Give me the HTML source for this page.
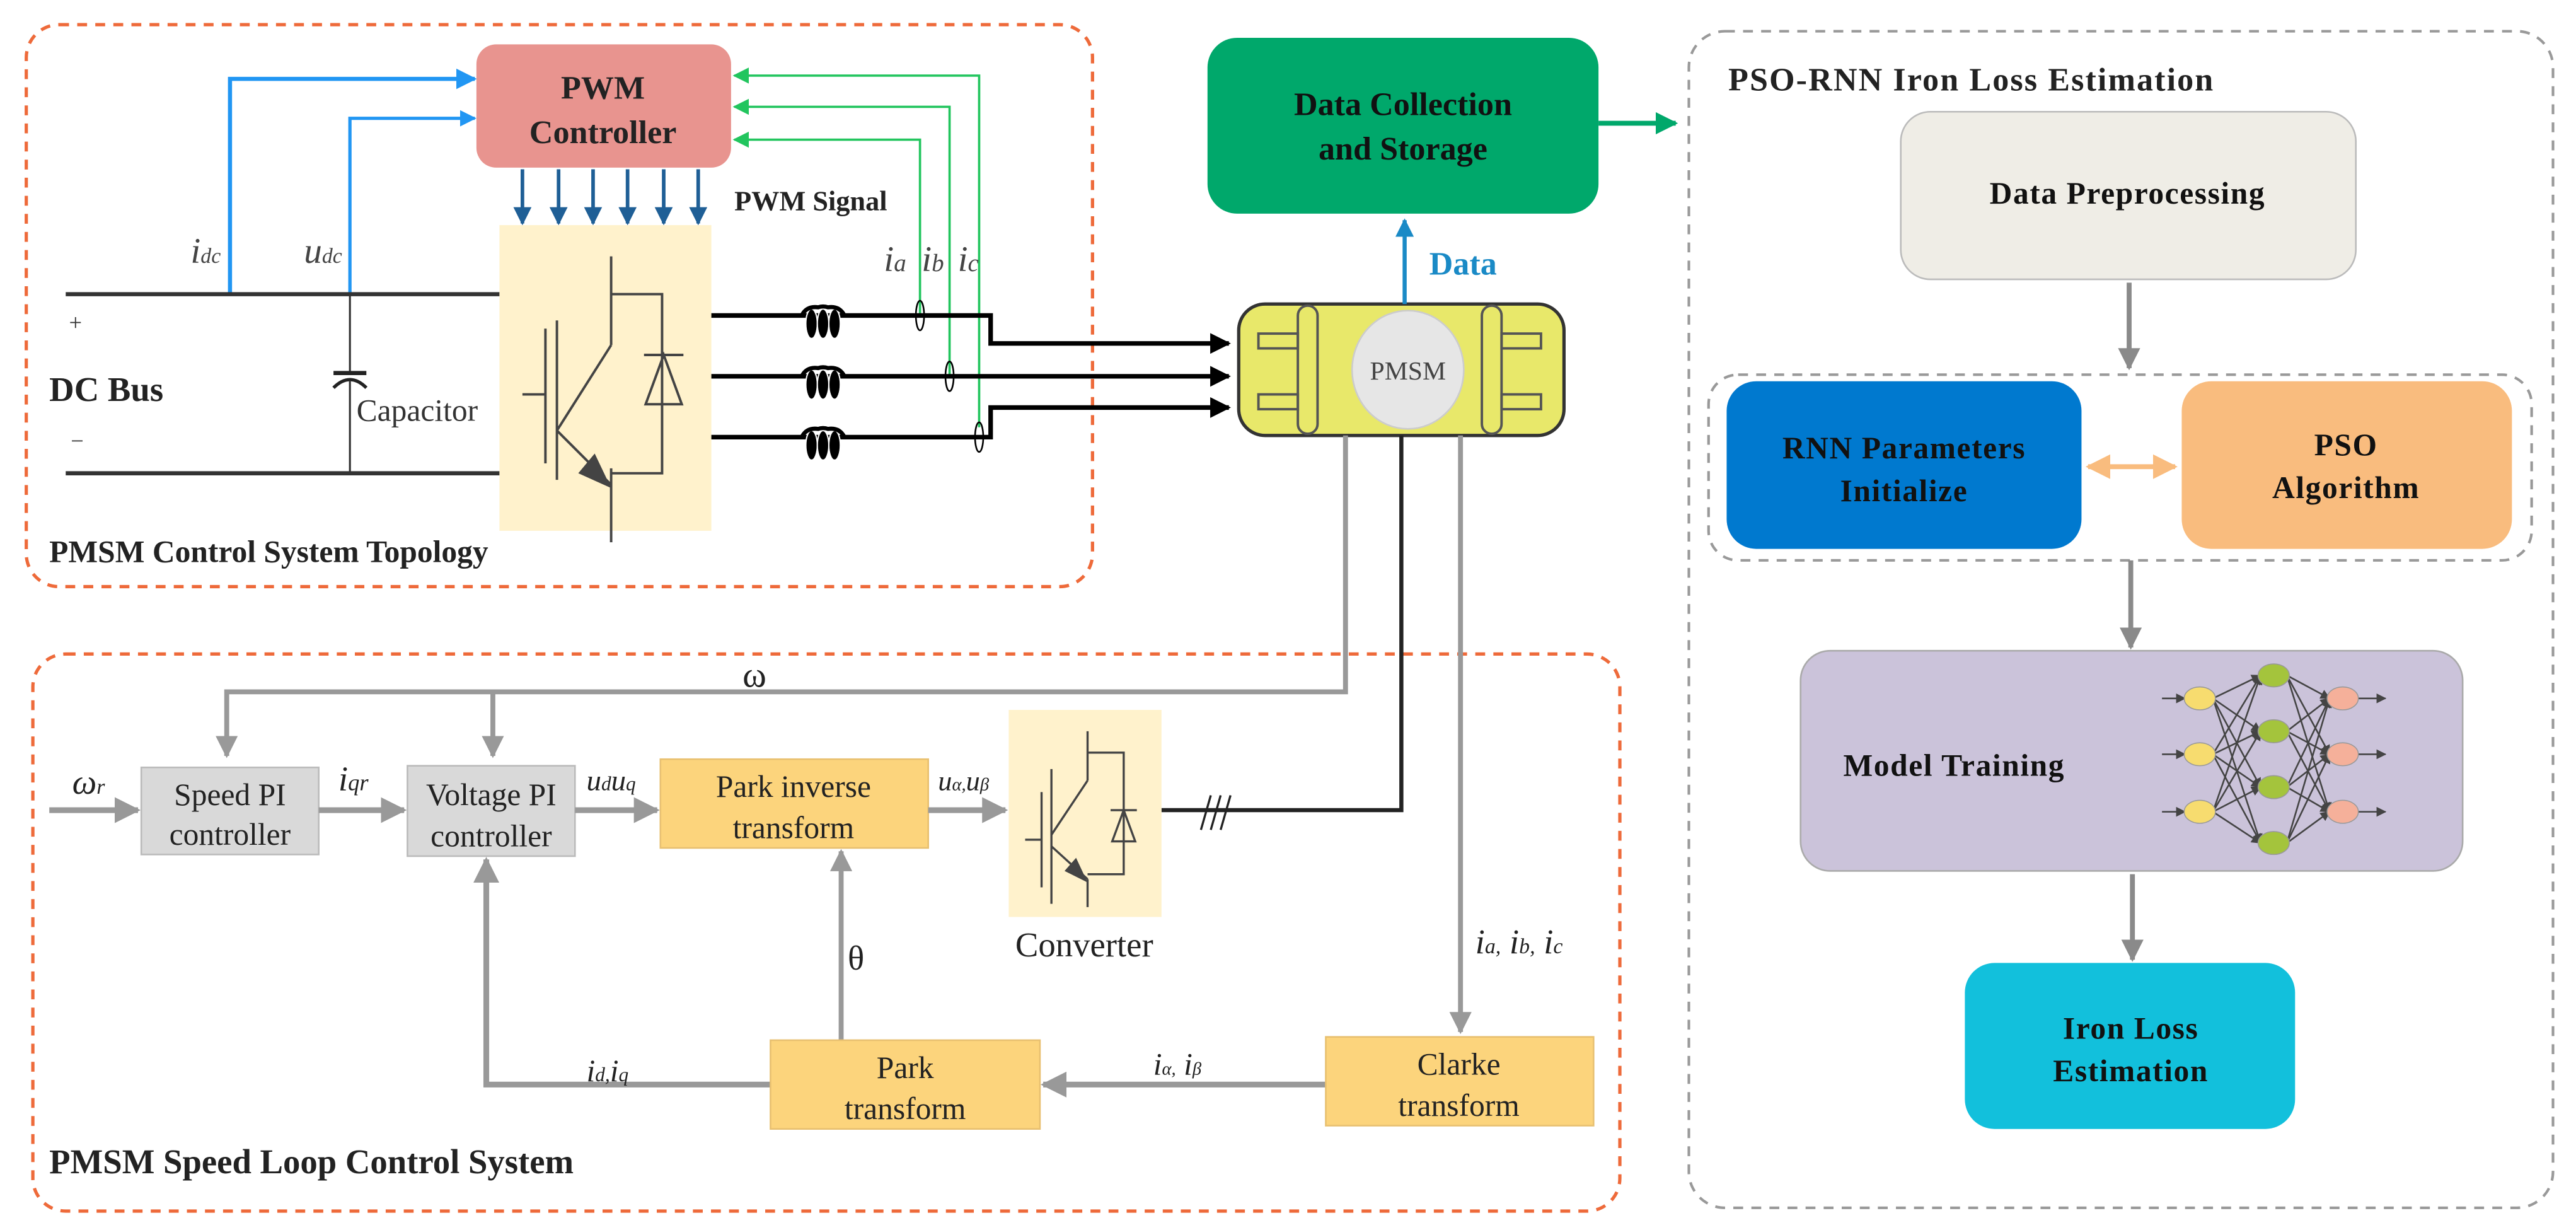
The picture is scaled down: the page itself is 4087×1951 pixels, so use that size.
<!DOCTYPE html>
<html><head><meta charset="utf-8"><style>html,body{margin:0;padding:0;background:#fff}svg{display:block}</style></head>
<body>
<svg width="4087" height="1951" viewBox="0 0 1568 748.5" preserveAspectRatio="none" xmlns="http://www.w3.org/2000/svg" font-family="Liberation Serif, serif">
<defs>
<marker id="ab" viewBox="0 0 10 10" refX="9" refY="5" markerWidth="5" markerHeight="5" orient="auto"><path d="M0,0L10,5L0,10z" fill="#2196f3"/></marker>
<marker id="ag" viewBox="0 0 10 10" refX="9" refY="5" markerWidth="7" markerHeight="7" orient="auto"><path d="M0,0L10,5L0,10z" fill="#22c55e"/></marker>
<marker id="ad" viewBox="0 0 10 10" refX="9" refY="5" markerWidth="5" markerHeight="5" orient="auto"><path d="M0,0L10,5L0,10z" fill="#1f5f96"/></marker>
<marker id="ak" viewBox="0 0 10 10" refX="9" refY="5" markerWidth="4.5" markerHeight="4.5" orient="auto"><path d="M0,0L10,5L0,10z" fill="#000"/></marker>
<marker id="agr" viewBox="0 0 10 10" refX="9" refY="5" markerWidth="4.5" markerHeight="4.5" orient="auto"><path d="M0,0L10,5L0,10z" fill="#999"/></marker>
<marker id="agr2" viewBox="0 0 10 10" refX="9" refY="5" markerWidth="4.5" markerHeight="4.5" orient="auto"><path d="M0,0L10,5L0,10z" fill="#8a8a8a"/></marker>
<marker id="abl" viewBox="0 0 10 10" refX="9" refY="5" markerWidth="4.5" markerHeight="4.5" orient="auto"><path d="M0,0L10,5L0,10z" fill="#1a8ac6"/></marker>
<marker id="agn" viewBox="0 0 10 10" refX="9" refY="5" markerWidth="4.5" markerHeight="4.5" orient="auto"><path d="M0,0L10,5L0,10z" fill="#00a86b"/></marker>
<marker id="ao" viewBox="0 0 10 10" refX="9" refY="5" markerWidth="5" markerHeight="5" orient="auto-start-reverse"><path d="M0,0L10,5L0,10z" fill="#f9bc7e"/></marker>
<marker id="an" viewBox="0 0 10 10" refX="9" refY="5" markerWidth="6" markerHeight="6" orient="auto"><path d="M0,0L10,5L0,10z" fill="#444"/></marker>
</defs>

<rect x="16" y="15" width="649" height="342" rx="20" fill="none" stroke="#ee6a3a" stroke-width="2" stroke-dasharray="6,5"/>
<rect x="20" y="398" width="966" height="339" rx="20" fill="none" stroke="#ee6a3a" stroke-width="2" stroke-dasharray="6,5"/>
<rect x="1028" y="19" width="526" height="716" rx="22" fill="none" stroke="#999" stroke-width="1.6" stroke-dasharray="6,5"/>
<rect x="1040" y="228" width="501" height="113" rx="18" fill="none" stroke="#999" stroke-width="1.6" stroke-dasharray="6,5"/>

<rect x="290" y="27" width="155" height="75" rx="12" fill="#e8948f"/>
<text x="367" y="60" font-size="20" font-weight="bold" text-anchor="middle" fill="#222">PWM</text>
<text x="367" y="87" font-size="20" font-weight="bold" text-anchor="middle" fill="#222">Controller</text>

<polyline points="140,179 140,48 289,48" fill="none" stroke="#2196f3" stroke-width="2.5" marker-end="url(#ab)"/>
<polyline points="213,179 213,72 289,72" fill="none" stroke="#2196f3" stroke-width="2" marker-end="url(#ab)"/>
<text x="116" y="160" font-size="22" font-style="italic" fill="#444">i<tspan font-size="13">dc</tspan></text>
<text x="185" y="160" font-size="22" font-style="italic" fill="#444">u<tspan font-size="13">dc</tspan></text>

<g stroke="#1f5f96" stroke-width="2.2" marker-end="url(#ad)">
<line x1="318" y1="103" x2="318" y2="136"/><line x1="340" y1="103" x2="340" y2="136"/><line x1="361" y1="103" x2="361" y2="136"/><line x1="382" y1="103" x2="382" y2="136"/><line x1="404" y1="103" x2="404" y2="136"/><line x1="425" y1="103" x2="425" y2="136"/>
</g>
<text x="447" y="128" font-size="17" font-weight="bold" fill="#222">PWM Signal</text>

<g fill="none" stroke="#22c55e" stroke-width="1.4">
<polyline points="596,260 596,46 447,46" marker-end="url(#ag)"/>
<polyline points="578,229 578,65 447,65" marker-end="url(#ag)"/>
<polyline points="560,192 560,85 447,85" marker-end="url(#ag)"/>
</g>
<text x="538" y="165" font-size="22" font-style="italic" fill="#444">i<tspan font-size="15">a</tspan></text>
<text x="561" y="165" font-size="22" font-style="italic" fill="#444">i<tspan font-size="15">b</tspan></text>
<text x="583" y="165" font-size="22" font-style="italic" fill="#444">i<tspan font-size="15">c</tspan></text>

<line x1="40" y1="179" x2="305" y2="179" stroke="#333" stroke-width="2.5"/>
<line x1="40" y1="288" x2="305" y2="288" stroke="#333" stroke-width="2.5"/>
<text x="42" y="201" font-size="14" fill="#333">+</text>
<text x="43" y="273" font-size="14" fill="#333">−</text>
<text x="30" y="244" font-size="21" font-weight="bold" fill="#222">DC Bus</text>
<line x1="213" y1="179" x2="213" y2="227" stroke="#333" stroke-width="1.2"/>
<line x1="203" y1="227" x2="223" y2="227" stroke="#222" stroke-width="2.5"/>
<path d="M203,236 Q213,226 223,236" fill="none" stroke="#222" stroke-width="2"/>
<line x1="213" y1="232" x2="213" y2="288" stroke="#333" stroke-width="1.2"/>
<text x="217" y="256" font-size="19" fill="#333">Capacitor</text>

<rect x="304" y="137" width="129" height="186" fill="#fff2cc"/>
<g stroke="#444" stroke-width="1.5" fill="none">
<line x1="372" y1="156" x2="372" y2="210"/><polyline points="372,179 403,179 403,288 372,288"/>
<line x1="372" y1="210" x2="339" y2="262"/>
<line x1="332" y1="200" x2="332" y2="282"/><line x1="318" y1="240" x2="332" y2="240"/>
<line x1="339" y1="195" x2="339" y2="292"/>
<line x1="339" y1="262" x2="372" y2="295"/><line x1="372" y1="285" x2="372" y2="330"/>
<line x1="392" y1="216" x2="416" y2="216"/><polygon points="404,216 393,246 415,246"/>
</g>
<polygon points="372,297 352,288 362,276" fill="#444"/>

<g fill="none" stroke="#000" stroke-width="2.8">
<polyline points="433,192 603,192 603,209 748,209" marker-end="url(#ak)"/>
<polyline points="433,229 748,229" marker-end="url(#ak)"/>
<polyline points="433,266 603,266 603,248 748,248" marker-end="url(#ak)"/>
</g>
<g fill="#000" stroke="#fff" stroke-width="0.8">
<ellipse cx="494" cy="197" rx="3.5" ry="9"/><ellipse cx="501" cy="197" rx="3.5" ry="9"/><ellipse cx="508" cy="197" rx="3.5" ry="9"/>
<ellipse cx="494" cy="234" rx="3.5" ry="9"/><ellipse cx="501" cy="234" rx="3.5" ry="9"/><ellipse cx="508" cy="234" rx="3.5" ry="9"/>
<ellipse cx="494" cy="271" rx="3.5" ry="9"/><ellipse cx="501" cy="271" rx="3.5" ry="9"/><ellipse cx="508" cy="271" rx="3.5" ry="9"/>
</g>
<g fill="none" stroke="#000" stroke-width="2.5">
<path d="M488,192 Q491,186 498,187 Q501,186 504,187 Q511,186 514,192"/>
<path d="M488,229 Q491,223 498,224 Q501,223 504,224 Q511,223 514,229"/>
<path d="M488,266 Q491,260 498,261 Q501,260 504,261 Q511,260 514,266"/>
</g>
<g fill="none" stroke="#000" stroke-width="1">
<ellipse cx="560" cy="192" rx="2.5" ry="9"/><ellipse cx="578" cy="229" rx="2.5" ry="9"/><ellipse cx="596" cy="266" rx="2.5" ry="9"/>
</g>

<rect x="754" y="185" width="198" height="80" rx="16" fill="#e8e86a" stroke="#333" stroke-width="2"/>
<rect x="790" y="186" width="12" height="78" rx="6" fill="none" stroke="#555" stroke-width="1.5"/>
<rect x="902" y="186" width="12" height="78" rx="6" fill="none" stroke="#555" stroke-width="1.5"/>
<rect x="766" y="203" width="24" height="9" fill="none" stroke="#555" stroke-width="1.5"/>
<rect x="766" y="240" width="24" height="9" fill="none" stroke="#555" stroke-width="1.5"/>
<rect x="914" y="203" width="24" height="9" fill="none" stroke="#555" stroke-width="1.5"/>
<rect x="914" y="240" width="24" height="9" fill="none" stroke="#555" stroke-width="1.5"/>
<ellipse cx="857" cy="225" rx="34" ry="36" fill="#e6e6e6" stroke="#ccc"/>
<text x="857" y="231" font-size="16" text-anchor="middle" fill="#444">PMSM</text>

<rect x="735" y="23" width="238" height="107" rx="18" fill="#00a86b"/>
<text x="854" y="70" font-size="20" font-weight="bold" text-anchor="middle" fill="#111">Data Collection</text>
<text x="854" y="97" font-size="20" font-weight="bold" text-anchor="middle" fill="#111">and Storage</text>
<line x1="855" y1="185" x2="855" y2="134" stroke="#1a8ac6" stroke-width="2.5" marker-end="url(#abl)"/>
<text x="870" y="167" font-size="20" font-weight="bold" fill="#1a8ac6">Data</text>
<line x1="973" y1="75" x2="1020" y2="75" stroke="#00a86b" stroke-width="3" marker-end="url(#agn)"/>

<polyline points="819,265 819,421 138,421 138,460" fill="none" stroke="#999" stroke-width="3" marker-end="url(#agr)"/>
<line x1="300" y1="421" x2="300" y2="460" stroke="#999" stroke-width="3" marker-end="url(#agr)"/>
<text x="452" y="418" font-size="22" fill="#222">ω</text>
<polyline points="853,265 853,493 707,493" fill="none" stroke="#222" stroke-width="2.5"/>
<g stroke="#222" stroke-width="1.3"><line x1="731" y1="505" x2="737" y2="484"/><line x1="737" y1="505" x2="743" y2="484"/><line x1="743" y1="505" x2="749" y2="484"/></g>
<line x1="889" y1="265" x2="889" y2="628" stroke="#999" stroke-width="3" marker-end="url(#agr)"/>
<text x="898" y="580" font-size="21" font-style="italic" fill="#222">i<tspan font-size="13">a,</tspan> i<tspan font-size="13">b,</tspan> i<tspan font-size="13">c</tspan></text>

<rect x="86" y="467" width="108" height="53" fill="#d9d9d9" stroke="#bbb"/>
<text x="140" y="490" font-size="19" text-anchor="middle" fill="#222">Speed PI</text>
<text x="140" y="514" font-size="19" text-anchor="middle" fill="#222">controller</text>
<rect x="248" y="466" width="102" height="55" fill="#d9d9d9" stroke="#bbb"/>
<text x="299" y="490" font-size="19" text-anchor="middle" fill="#222">Voltage PI</text>
<text x="299" y="515" font-size="19" text-anchor="middle" fill="#222">controller</text>
<rect x="402" y="462" width="163" height="54" fill="#fcd47c" stroke="#e8c070"/>
<text x="483" y="485" font-size="19" text-anchor="middle" fill="#222">Park inverse</text>
<text x="483" y="510" font-size="19" text-anchor="middle" fill="#222">transform</text>
<rect x="614" y="432" width="93" height="126" fill="#fff2cc"/>
<g stroke="#444" stroke-width="1.3" fill="none">
<line x1="662" y1="445" x2="662" y2="475"/><polyline points="662,458 684,458 684,532 662,532"/>
<line x1="662" y1="475" x2="640" y2="508"/><line x1="640" y1="468" x2="640" y2="550"/>
<line x1="634" y1="482" x2="634" y2="540"/><line x1="624" y1="511" x2="634" y2="511"/>
<line x1="640" y1="515" x2="662" y2="535"/><line x1="662" y1="535" x2="662" y2="552"/>
<line x1="676" y1="493" x2="692" y2="493"/><polygon points="684,493 677,512 691,512"/>
</g>
<polygon points="662,537 648,530 655,522" fill="#444"/>
<text x="660" y="582" font-size="21" text-anchor="middle" fill="#222">Converter</text>

<g stroke="#999" stroke-width="3.5" fill="none">
<line x1="30" y1="493" x2="84" y2="493" marker-end="url(#agr)"/>
<line x1="194" y1="493" x2="246" y2="493" marker-end="url(#agr)"/>
<line x1="350" y1="493" x2="400" y2="493" marker-end="url(#agr)"/>
<line x1="565" y1="493" x2="612" y2="493" marker-end="url(#agr)"/>
<line x1="512" y1="633" x2="512" y2="518" stroke-width="3" marker-end="url(#agr)"/>
<line x1="807" y1="660" x2="635" y2="660" marker-end="url(#agr)"/>
<polyline points="469,660 296,660 296,523" marker-end="url(#agr)"/>
</g>
<text x="44" y="483" font-size="21" font-style="italic" fill="#222">ω<tspan font-size="13">r</tspan></text>
<text x="206" y="481" font-size="21" font-style="italic" fill="#222">i<tspan font-size="14">qr</tspan></text>
<text x="357" y="481" font-size="18" font-style="italic" fill="#222">u<tspan font-size="12">d</tspan>u<tspan font-size="12">q</tspan></text>
<text x="571" y="481" font-size="17" font-style="italic" fill="#222">u<tspan font-size="11">α,</tspan>u<tspan font-size="11">β</tspan></text>
<text x="516" y="590" font-size="21" fill="#222">θ</text>
<text x="357" y="658" font-size="19" font-style="italic" fill="#222">i<tspan font-size="12">d,</tspan>i<tspan font-size="12">q</tspan></text>
<text x="702" y="654" font-size="19" font-style="italic" fill="#222">i<tspan font-size="11">α,</tspan> i<tspan font-size="11">β</tspan></text>

<rect x="469" y="633" width="164" height="54" fill="#fcd47c" stroke="#e8c070"/>
<text x="551" y="656" font-size="19" text-anchor="middle" fill="#222">Park</text>
<text x="551" y="681" font-size="19" text-anchor="middle" fill="#222">transform</text>
<rect x="807" y="631" width="163" height="54" fill="#fcd47c" stroke="#e8c070"/>
<text x="888" y="654" font-size="19" text-anchor="middle" fill="#222">Clarke</text>
<text x="888" y="679" font-size="19" text-anchor="middle" fill="#222">transform</text>

<text x="30" y="342" font-size="19" font-weight="bold" fill="#222">PMSM Control System Topology</text>
<text x="30" y="714" font-size="21" font-weight="bold" fill="#222">PMSM Speed Loop Control System</text>

<text x="1052" y="55" font-size="20" font-weight="bold" fill="#222" letter-spacing="0.8">PSO-RNN Iron Loss Estimation</text>
<rect x="1157" y="68" width="277" height="102" rx="18" fill="#efede6" stroke="#bbb"/>
<text x="1295" y="124" font-size="19" font-weight="bold" text-anchor="middle" fill="#111" letter-spacing="0.6">Data Preprocessing</text>
<line x1="1296" y1="172" x2="1296" y2="224" stroke="#8a8a8a" stroke-width="3" marker-end="url(#agr2)"/>
<rect x="1051" y="232" width="216" height="102" rx="18" fill="#0079cf"/>
<text x="1159" y="279" font-size="19" font-weight="bold" text-anchor="middle" fill="#111" letter-spacing="0.6">RNN Parameters</text>
<text x="1159" y="305" font-size="19" font-weight="bold" text-anchor="middle" fill="#111" letter-spacing="0.6">Initialize</text>
<rect x="1328" y="232" width="201" height="102" rx="18" fill="#f9bc7e"/>
<text x="1428" y="277" font-size="19" font-weight="bold" text-anchor="middle" fill="#111" letter-spacing="0.6">PSO</text>
<text x="1428" y="303" font-size="19" font-weight="bold" text-anchor="middle" fill="#111" letter-spacing="0.6">Algorithm</text>
<line x1="1271" y1="284" x2="1324" y2="284" stroke="#f9bc7e" stroke-width="3" marker-start="url(#ao)" marker-end="url(#ao)"/>
<line x1="1297" y1="341" x2="1297" y2="394" stroke="#8a8a8a" stroke-width="3" marker-end="url(#agr2)"/>
<rect x="1096" y="396" width="403" height="134" rx="18" fill="#cbc3da" stroke="#aaa"/>
<text x="1122" y="472" font-size="19" font-weight="bold" fill="#111" letter-spacing="0.6">Model Training</text>
<g stroke="#444" stroke-width="1">
<line x1="1316" y1="425" x2="1330" y2="425" marker-end="url(#an)"/><line x1="1316" y1="459" x2="1330" y2="459" marker-end="url(#an)"/><line x1="1316" y1="494" x2="1330" y2="494" marker-end="url(#an)"/>
<line x1="1435" y1="425" x2="1452" y2="425" marker-end="url(#an)"/><line x1="1435" y1="459" x2="1452" y2="459" marker-end="url(#an)"/><line x1="1435" y1="494" x2="1452" y2="494" marker-end="url(#an)"/>
<g marker-end="url(#an)">
<line x1="1347" y1="425" x2="1376" y2="411"/><line x1="1347" y1="425" x2="1376" y2="445"/><line x1="1347" y1="425" x2="1376" y2="479"/><line x1="1347" y1="425" x2="1376" y2="513"/>
<line x1="1347" y1="459" x2="1376" y2="411"/><line x1="1347" y1="459" x2="1376" y2="445"/><line x1="1347" y1="459" x2="1376" y2="479"/><line x1="1347" y1="459" x2="1376" y2="513"/>
<line x1="1347" y1="494" x2="1376" y2="411"/><line x1="1347" y1="494" x2="1376" y2="445"/><line x1="1347" y1="494" x2="1376" y2="479"/><line x1="1347" y1="494" x2="1376" y2="513"/>
<line x1="1392" y1="411" x2="1418" y2="425"/><line x1="1392" y1="411" x2="1418" y2="459"/><line x1="1392" y1="411" x2="1418" y2="494"/>
<line x1="1392" y1="445" x2="1418" y2="425"/><line x1="1392" y1="445" x2="1418" y2="459"/><line x1="1392" y1="445" x2="1418" y2="494"/>
<line x1="1392" y1="479" x2="1418" y2="425"/><line x1="1392" y1="479" x2="1418" y2="459"/><line x1="1392" y1="479" x2="1418" y2="494"/>
<line x1="1392" y1="513" x2="1418" y2="425"/><line x1="1392" y1="513" x2="1418" y2="459"/><line x1="1392" y1="513" x2="1418" y2="494"/>
</g></g>
<g stroke="#999" stroke-width="0.6">
<ellipse cx="1339" cy="425" rx="9.5" ry="7" fill="#f7dc6f"/><ellipse cx="1339" cy="459" rx="9.5" ry="7" fill="#f7dc6f"/><ellipse cx="1339" cy="494" rx="9.5" ry="7" fill="#f7dc6f"/>
<ellipse cx="1384" cy="411" rx="9.5" ry="7" fill="#a4c43c"/><ellipse cx="1384" cy="445" rx="9.5" ry="7" fill="#a4c43c"/><ellipse cx="1384" cy="479" rx="9.5" ry="7" fill="#a4c43c"/><ellipse cx="1384" cy="513" rx="9.5" ry="7" fill="#a4c43c"/>
<ellipse cx="1426" cy="425" rx="9.5" ry="7" fill="#f5b09a"/><ellipse cx="1426" cy="459" rx="9.5" ry="7" fill="#f5b09a"/><ellipse cx="1426" cy="494" rx="9.5" ry="7" fill="#f5b09a"/>
</g>
<line x1="1298" y1="532" x2="1298" y2="584" stroke="#8a8a8a" stroke-width="3" marker-end="url(#agr2)"/>
<rect x="1196" y="586" width="201" height="101" rx="18" fill="#12c0dc"/>
<text x="1297" y="632" font-size="19" font-weight="bold" text-anchor="middle" fill="#111" letter-spacing="0.6">Iron Loss</text>
<text x="1297" y="658" font-size="19" font-weight="bold" text-anchor="middle" fill="#111" letter-spacing="0.6">Estimation</text>
</svg>
</body></html>
